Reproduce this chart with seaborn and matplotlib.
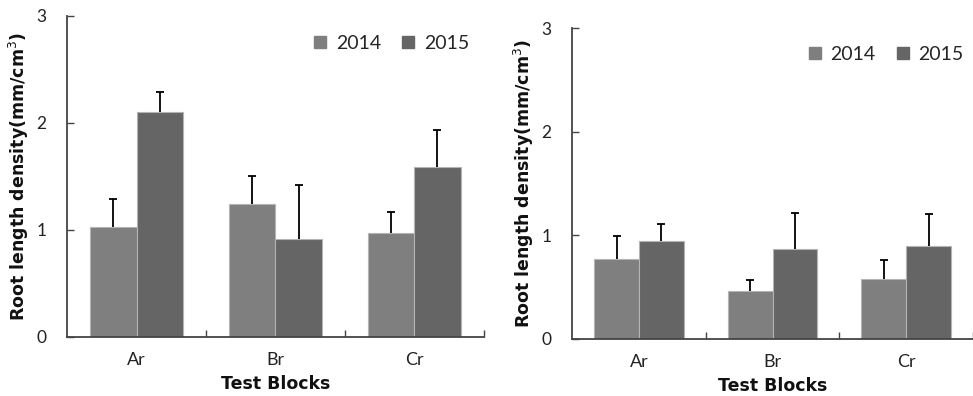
import numpy as np
import pandas as pd
import matplotlib
matplotlib.use("Agg")
import matplotlib.pyplot as plt
import seaborn as sns

# Root length density (mm/cm^3) by test block and year, with standard deviations
blocks = ["Ar", "Br", "Cr"]
years = ["2014", "2015"]

left_2014 = [1.03, 1.24, 0.97]
left_2015 = [2.10, 0.92, 1.59]
left_sd_2014 = [0.26, 0.26, 0.20]
left_sd_2015 = [0.19, 0.50, 0.34]

right_2014 = [0.77, 0.46, 0.58]
right_2015 = [0.95, 0.87, 0.90]
right_sd_2014 = [0.22, 0.11, 0.18]
right_sd_2015 = [0.16, 0.35, 0.31]

y_ticks = [0, 1, 2, 3]
colors = {"2014": "#7f7f7f", "2015": "#656565"}

sns.set_theme(style="white")
plt.rcParams["font.family"] = ["Lato", "DejaVu Sans"]


def make_frame(v14, v15, s14, s15):
    rows = []
    for b, a, s in zip(blocks, v14, s14):
        rows.append({"block": b, "year": "2014", "value": a, "sd": s})
    for b, a, s in zip(blocks, v15, s15):
        rows.append({"block": b, "year": "2015", "value": a, "sd": s})
    return pd.DataFrame(rows)


def draw_panel(ax, df, legend_anchor):
    sns.barplot(data=df, x="block", y="value", hue="year", order=blocks,
                hue_order=years, palette=colors, width=0.67, errorbar=None,
                edgecolor="#b4b4b4", linewidth=0.8, saturation=1, ax=ax)
    # one-sided (upper) error bars centred on each bar
    for container, year in zip(ax.containers, years):
        sub = df[df["year"] == year].set_index("block").loc[blocks]
        xs = [p.get_x() + p.get_width() / 2 for p in container.patches]
        hs = [p.get_height() for p in container.patches]
        eb = ax.errorbar(xs, hs, yerr=[np.zeros(len(xs)), sub["sd"].values],
                         fmt="none", ecolor="black", elinewidth=1.3,
                         capsize=3, capthick=1.3, zorder=3)
        # keep only the upper cap
        eb[1][0].remove()
    ax.set_xlim(-0.5, 2.5)
    ax.set_ylim(0, 3)
    ax.set_yticks(y_ticks)
    ax.set_yticklabels([str(t) for t in y_ticks])
    ax.set_xticks(range(len(blocks)))
    ax.set_xticks([0.5, 1.5, 2.5], minor=True)
    ax.tick_params(axis="x", which="major", length=0, pad=11, labelsize=13,
                   labelcolor="#222222")
    ax.tick_params(axis="x", which="minor", direction="in", length=5,
                   width=1.0, color="#444444", bottom=True)
    ax.tick_params(axis="y", direction="in", length=5, width=1.0,
                   color="#444444", pad=15, labelsize=12.5, left=True,
                   labelcolor="#222222")
    for side in ("top", "right"):
        ax.spines[side].set_visible(False)
    for side in ("left", "bottom"):
        ax.spines[side].set_color("#444444")
        ax.spines[side].set_linewidth(1.3)
    ax.set_xlabel("Test Blocks", fontsize=12.5, fontweight="bold",
                  family="DejaVu Sans", labelpad=5, color="#111111")
    ax.set_ylabel("Root length density(mm/cm$^3$)", fontsize=12.5,
                  fontweight="bold", family="DejaVu Sans", labelpad=4,
                  color="#111111")
    handles = [plt.Line2D([], [], marker="s", linestyle="none",
                          markersize=8, markerfacecolor=colors[y],
                          markeredgecolor=colors[y]) for y in years]
    ax.legend(handles, years, loc="upper right", bbox_to_anchor=legend_anchor,
              ncol=2, frameon=False, fontsize=14, handletextpad=0.3,
              columnspacing=0.9, handlelength=1.0)


fig = plt.figure(figsize=(9.73, 3.96), dpi=100)
ax_l = fig.add_axes([0.069, 0.149, 0.428, 0.811])
ax_r = fig.add_axes([0.588, 0.144, 0.412, 0.785])

draw_panel(ax_l, make_frame(left_2014, left_2015, left_sd_2014, left_sd_2015),
           (1.007, 0.995))
draw_panel(ax_r, make_frame(right_2014, right_2015, right_sd_2014, right_sd_2015),
           (1.02, 1.0))

fig.savefig("out.png", dpi=100)
